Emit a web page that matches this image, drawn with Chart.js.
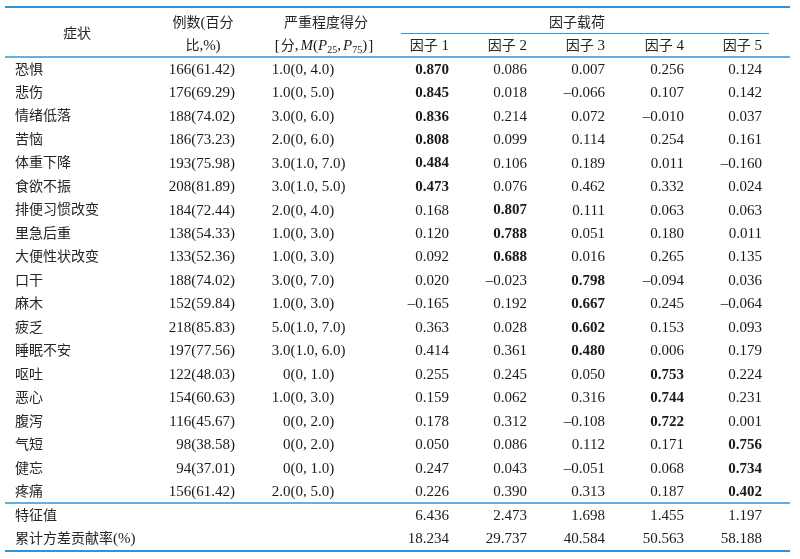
<!DOCTYPE html>
<html><head><meta charset="utf-8">
<script src="https://cdn.jsdelivr.net/npm/chart.js@4.4.1/dist/chart.umd.min.js"></script>
<style>html,body{margin:0;padding:0;background:#fff}#wrap{width:800px;height:559px;position:relative}</style>
</head><body><div id="wrap"><canvas id="c"></canvas></div>
<script>
// ---------------- data ----------------
const symptoms = ['恐惧','悲伤','情绪低落','苦恼','体重下降','食欲不振','排便习惯改变','里急后重','大便性状改变','口干','麻木','疲乏','睡眠不安','呕吐','恶心','腹泻','气短','健忘','疼痛'];
const counts = [166,176,188,186,193,208,184,138,133,188,152,218,197,122,154,116,98,94,156];
const percents = [61.42,69.29,74.02,73.23,75.98,81.89,72.44,54.33,52.36,74.02,59.84,85.83,77.56,48.03,60.63,45.67,38.58,37.01,61.42];
const severityMedian = [1,1,3,2,3,3,2,1,1,3,1,5,3,0,1,0,0,0,2];
const severityP25 = [0,0,0,0,1,1,0,0,0,0,0,1,1,0,0,0,0,0,0];
const severityP75 = [4,5,6,6,7,5,4,3,3,7,3,7,6,1,3,2,2,1,5];
const factor1 = [0.870,0.845,0.836,0.808,0.484,0.473,0.168,0.120,0.092,0.020,-0.165,0.363,0.414,0.255,0.159,0.178,0.050,0.247,0.226];
const factor2 = [0.086,0.018,0.214,0.099,0.106,0.076,0.807,0.788,0.688,-0.023,0.192,0.028,0.361,0.245,0.062,0.312,0.086,0.043,0.390];
const factor3 = [0.007,-0.066,0.072,0.114,0.189,0.462,0.111,0.051,0.016,0.798,0.667,0.602,0.480,0.050,0.316,-0.108,0.112,-0.051,0.313];
const factor4 = [0.256,0.107,-0.010,0.254,0.011,0.332,0.063,0.180,0.265,-0.094,0.245,0.153,0.006,0.753,0.744,0.722,0.171,0.068,0.187];
const factor5 = [0.124,0.142,0.037,0.161,-0.160,0.024,0.063,0.011,0.135,0.036,-0.064,0.093,0.179,0.224,0.231,0.001,0.756,0.734,0.402];
const eigenvalues = [6.436,2.473,1.698,1.455,1.197];
const cumulativeVariance = [18.234,29.737,40.584,50.563,58.188];
const factorLabels = ['因子 1','因子 2','因子 3','因子 4','因子 5'];
const footerLabels = ['特征值','累计方差贡献率(%)'];
const headerSymptom = '症状';
const headerCount = ['例数(百分','比,%)'];
const headerSeverity = '严重程度得分';
const headerLoading = '因子载荷';

// ---------------- layout / style ----------------
const LAYOUT = {
  symptomLeft: 15, symptomHeaderCenter: 77,
  countRight: 235, countHeaderCenter: 203,
  severityParen: 290.5, severityHeaderCenter: 326, severityUnitCenter: 324,
  factorRight: [449, 527, 605, 684, 762], loadingHeaderCenter: 577,
  ruleLeft: 5, ruleRight: 790, subRuleLeft: 401, subRuleRight: 769
};
const STYLE = {
  rule: '#2f95d8', text: '#1a1a1a', cjkText: '#262626',
  latin: '"Liberation Serif", "Times New Roman", serif', latinSize: 15,
  cjk: '"Noto Sans CJK SC", sans-serif', cjkSize: 14,
  latinDy: 1, cjkDy: -0.5
};

const factors = [factor1, factor2, factor3, factor4, factor5];
const rowKeys = ['_h0', '_h1', ...symptoms, ...footerLabels];

function fmtLoad(v){ return v.toFixed(3).replace('-', '\u2013'); }
function fmtSev(v){ return v === 0 ? '0' : v.toFixed(1); }

// build datasets: one scatter dataset per column, one invisible point per cell
const firstCol = [...symptoms, ...footerLabels];
const cols = [];
cols.push({ x: LAYOUT.symptomLeft, align: 'left',
  cells: firstCol.map(t => ({ row: t, text: t })) });
cols.push({ x: LAYOUT.countRight, align: 'right',
  cells: symptoms.map((s, i) => ({ row: s, text: counts[i] + '(' + percents[i].toFixed(2) + ')' })) });
cols.push({ x: LAYOUT.severityParen, align: 'paren',
  cells: symptoms.map((s, i) => ({ row: s, text: fmtSev(severityMedian[i]) + '(' + fmtSev(severityP25[i]) + ', ' + fmtSev(severityP75[i]) + ')' })) });
factors.forEach((f, k) => {
  const cells = symptoms.map((s, i) => {
    const rowVals = factors.map(ff => ff[i]);
    const maxIdx = rowVals.indexOf(Math.max(...rowVals));
    return { row: s, text: fmtLoad(f[i]), bold: maxIdx === k };
  });
  cells.push({ row: footerLabels[0], text: eigenvalues[k].toFixed(3) });
  cells.push({ row: footerLabels[1], text: cumulativeVariance[k].toFixed(3) });
  cols.push({ x: LAYOUT.factorRight[k], align: 'right', cells });
});

const datasets = cols.map(c => ({
  data: c.cells.map(cell => ({ x: c.x, y: cell.row })),
  cells: c.cells, align: c.align,
  pointRadius: 0, pointHoverRadius: 0
}));

// ---------------- text helpers ----------------
const CJK_RE = /[\u2E80-\u9FFF\u3000-\u303F\uFF00-\uFFEF]/;
function toSegs(text, opts) {
  opts = opts || {};
  const segs = [];
  for (const ch of text) {
    const cjk = CJK_RE.test(ch);
    const last = segs[segs.length - 1];
    if (last && last.cjk === cjk && !last.italic && !last.sub) last.t += ch;
    else segs.push({ t: ch, cjk, bold: opts.bold });
  }
  return segs;
}
function segFont(s) {
  if (s.cjk) return (s.bold ? 'bold ' : '') + STYLE.cjkSize + 'px ' + STYLE.cjk;
  return (s.italic ? 'italic ' : '') + (s.bold ? 'bold ' : '') + (s.sub ? 10 : STYLE.latinSize) + 'px ' + STYLE.latin;
}
function segsWidth(ctx, segs) {
  let w = 0;
  for (const s of segs) { ctx.font = segFont(s); w += ctx.measureText(s.t).width + (s.gap || 0); }
  return w;
}
function drawSegs(ctx, segs, x, y, align) {
  const w = segsWidth(ctx, segs);
  let cx = align === 'right' ? x - w : align === 'center' ? x - w / 2 : x;
  ctx.textAlign = 'left';
  ctx.textBaseline = 'middle';
  for (const s of segs) {
    ctx.font = segFont(s);
    ctx.fillStyle = s.cjk ? STYLE.cjkText : STYLE.text;
    ctx.fillText(s.t, cx, y + (s.sub ? 4 : 0) + (s.cjk ? STYLE.cjkDy : STYLE.latinDy));
    cx += ctx.measureText(s.t).width + (s.gap || 0);
  }
}
function drawText(ctx, text, x, y, align, bold) {
  if (align === 'paren') {
    const p = text.indexOf('(');
    drawSegs(ctx, toSegs(text.slice(0, p), { bold }), x, y, 'right');
    drawSegs(ctx, toSegs(text.slice(p), { bold }), x, y, 'left');
  } else {
    drawSegs(ctx, toSegs(text, { bold }), x, y, align);
  }
}

// ---------------- table plugin ----------------
const tablePlugin = {
  id: 'tableCells',
  afterDatasetsDraw(chart) {
    const ctx = chart.ctx, xs = chart.scales.x, ys = chart.scales.y, area = chart.chartArea;
    const rowY = i => ys.getPixelForValue(i);
    const band = rowY(1) - rowY(0);
    const boundary = i => rowY(i) - band / 2;
    ctx.save();
    // rules
    const rule = (y, w, x0, x1) => {
      ctx.beginPath(); ctx.strokeStyle = STYLE.rule; ctx.lineWidth = w;
      ctx.moveTo(xs.getPixelForValue(x0), y); ctx.lineTo(xs.getPixelForValue(x1), y); ctx.stroke();
    };
    rule(area.top - 3, 2, LAYOUT.ruleLeft, LAYOUT.ruleRight);
    rule(boundary(1), 1, LAYOUT.subRuleLeft, LAYOUT.subRuleRight);
    rule(boundary(2), 1.4, LAYOUT.ruleLeft, LAYOUT.ruleRight);
    rule(boundary(2 + symptoms.length), 1.4, LAYOUT.ruleLeft, LAYOUT.ruleRight);
    rule(area.bottom + 1, 2, LAYOUT.ruleLeft, LAYOUT.ruleRight);

    // headers
    drawText(ctx, headerSymptom, xs.getPixelForValue(LAYOUT.symptomHeaderCenter), boundary(1), 'center');
    drawText(ctx, headerCount[0], xs.getPixelForValue(LAYOUT.countHeaderCenter), rowY(0), 'center');
    drawText(ctx, headerCount[1], xs.getPixelForValue(LAYOUT.countHeaderCenter), rowY(1), 'center');
    drawText(ctx, headerSeverity, xs.getPixelForValue(LAYOUT.severityHeaderCenter), rowY(0), 'center');
    const unitSegs = [
      { t: '[', cjk: false, gap: 1 }, { t: '分', cjk: true }, { t: ',', cjk: false, gap: 2 },
      { t: 'M', italic: true }, { t: '(' }, { t: 'P', italic: true }, { t: '25', sub: true },
      { t: ',', gap: 2 }, { t: 'P', italic: true }, { t: '75', sub: true }, { t: ')', gap: 1 }, { t: ']' }
    ];
    drawSegs(ctx, unitSegs, xs.getPixelForValue(LAYOUT.severityUnitCenter), rowY(1), 'center');
    drawText(ctx, headerLoading, xs.getPixelForValue(LAYOUT.loadingHeaderCenter), rowY(0), 'center');
    factorLabels.forEach((l, k) => drawText(ctx, l, xs.getPixelForValue(LAYOUT.factorRight[k]), rowY(1), 'right'));

    // body cells at point elements
    chart.data.datasets.forEach((ds, di) => {
      const meta = chart.getDatasetMeta(di);
      meta.data.forEach((pt, j) => {
        const cell = ds.cells[j];
        drawText(ctx, cell.text, pt.x, pt.y, ds.align, cell.bold);
      });
    });
    ctx.restore();
  }
};

new Chart(document.getElementById('c'), {
  type: 'scatter',
  data: { datasets },
  options: {
    responsive: true, maintainAspectRatio: false, animation: false, events: [],
    layout: { padding: { top: 10, bottom: 9, left: 0, right: 0 } },
    plugins: { legend: { display: false }, tooltip: { enabled: false } },
    scales: {
      x: { type: 'linear', min: 0, max: 800, display: false },
      y: { type: 'category', labels: rowKeys, offset: true, display: false }
    }
  },
  plugins: [tablePlugin]
});
</script>
</body></html>
